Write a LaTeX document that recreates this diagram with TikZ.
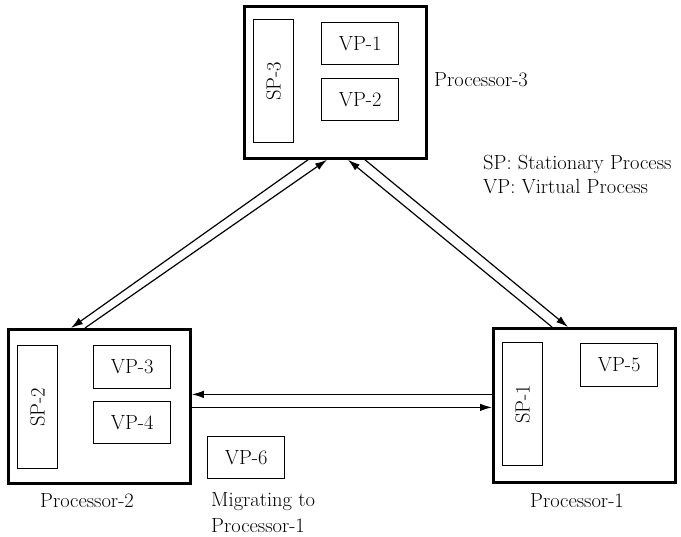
\documentclass[tikz,border=0pt]{standalone}
\usetikzlibrary{arrows.meta,calc}
\begin{document}
\begin{tikzpicture}[x=1pt,y=-1pt,
  every node/.style={font=\fontsize{20.5}{26}\selectfont, inner sep=0pt},
  procbox/.style={draw, line width=2.8pt, anchor=north west},
  innerbox/.style={draw, line width=1.3pt, anchor=north west},
  conn/.style={line width=1.2pt, -{Latex[length=12pt,width=7.5pt]}}]
\useasboundingbox (0,0) rectangle (681,537);
% Processor-3
\node[procbox, minimum width=182pt, minimum height=152pt] (p3) at (243,5) {};
\node[innerbox, minimum width=40pt, minimum height=123pt] (sp3) at (253,19) {};
\node[rotate=90] (sp3t) at (sp3.center) {SP-3};
\node[innerbox, minimum width=77pt, minimum height=42pt] (vp1) at (321,22) {};
\node (vp1t) at (vp1.center) {VP-1};
\node[innerbox, minimum width=77pt, minimum height=42pt] (vp2) at (321,78) {};
\node (vp2t) at (vp2.center) {VP-2};
\node[anchor=base west] (p3l) at (434,87) {Processor-3};
% Legend
\node[anchor=base west] (leg1) at (483,170) {SP: Stationary Process};
\node[anchor=base west] (leg2) at (483,194) {VP: Virtual Process};
% Processor-2
\node[procbox, minimum width=182pt, minimum height=154pt] (p2) at (7,328) {};
\node[innerbox, minimum width=40pt, minimum height=123pt] (sp2) at (17,345) {};
\node[rotate=90] (sp2t) at (sp2.center) {SP-2};
\node[innerbox, minimum width=77pt, minimum height=43pt] (vp3) at (93,345) {};
\node (vp3t) at (vp3.center) {VP-3};
\node[innerbox, minimum width=77pt, minimum height=42pt] (vp4) at (93,401) {};
\node (vp4t) at (vp4.center) {VP-4};
\node[anchor=base] (p2l) at (87,508) {Processor-2};
% VP-6
\node[innerbox, minimum width=77pt, minimum height=42pt] (vp6) at (207,436) {};
\node (vp6t) at (vp6.center) {VP-6};
\node[anchor=base west] (mig1) at (211,507) {Migrating to};
\node[anchor=base west] (mig2) at (211,533) {Processor-1};
% Processor-1
\node[procbox, minimum width=182pt, minimum height=154pt] (p1) at (492,327) {};
\node[innerbox, minimum width=40pt, minimum height=123pt] (sp1) at (502,342) {};
\node[rotate=90] (sp1t) at (sp1.center) {SP-1};
\node[innerbox, minimum width=77pt, minimum height=43pt] (vp5) at (580,343) {};
\node (vp5t) at (vp5.center) {VP-5};
\node[anchor=base] (p1l) at (577,508) {Processor-1};
% Connectors
\draw[conn] ($(p3.south west)+(65,0)$) -- ($(p2.north west)+(64,0)$);
\draw[conn] ($(p2.north west)+(78,0)$) -- ($(p3.south west)+(84,0)$);
\draw[conn] ($(p1.north west)+(60,0)$) -- ($(p3.south west)+(105,0)$);
\draw[conn] ($(p3.south west)+(122,0)$) -- ($(p1.north west)+(76,0)$);
\draw[conn] ([yshift=11pt]p1.west) -- ([yshift=11pt]p1.west -| p2.east);
\draw[conn] ([yshift=-1pt]p2.east) -- ([yshift=-1pt]p2.east -| p1.west);
\end{tikzpicture}
\end{document}
